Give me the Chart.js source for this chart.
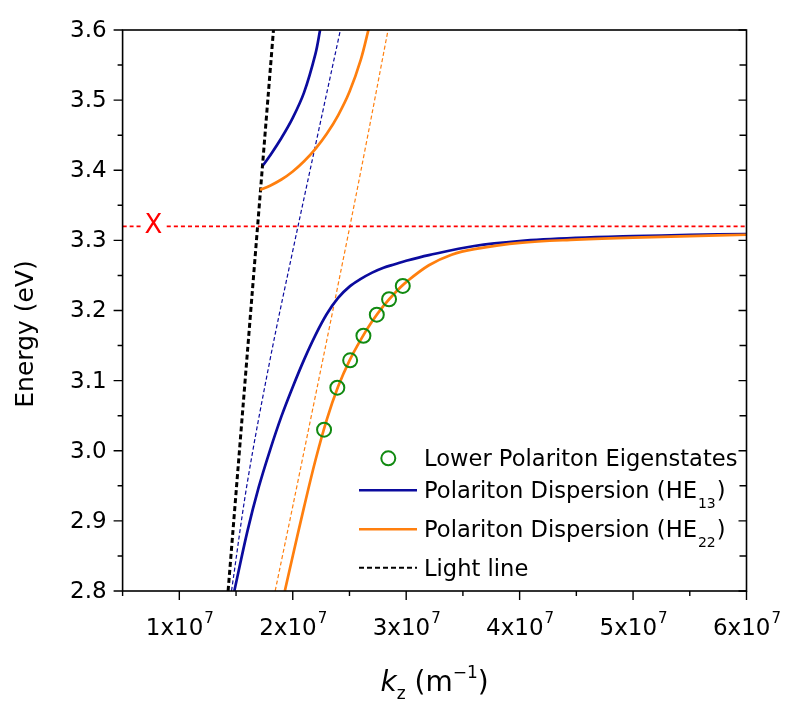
<!DOCTYPE html>
<html>
<head>
<meta charset="utf-8">
<script src="https://cdn.jsdelivr.net/npm/chart.js@4.4.0/dist/chart.umd.min.js"></script>
<style>
  html, body { margin: 0; padding: 0; background: #fff; }
  #wrap { width: 789px; height: 709px; }
</style>
</head>
<body>
<div id="wrap"><canvas id="c" width="789" height="709"></canvas></div>
<script>
// ---- axis ranges and ticks ----
const X_MIN = 0.5e7, X_MAX = 6e7;
const Y_MIN = 2.8, Y_MAX = 3.6;
const xMajorTicks = [1e7, 2e7, 3e7, 4e7, 5e7, 6e7];
const xMinorTicks = [0.5e7, 1.5e7, 2.5e7, 3.5e7, 4.5e7, 5.5e7];
const xTickLabels = ['1x10', '2x10', '3x10', '4x10', '5x10', '6x10'];
const xTickExponent = '7';
const yMajorTicks = [2.8, 2.9, 3.0, 3.1, 3.2, 3.3, 3.4, 3.5, 3.6];
const yMinorTicks = [2.85, 2.95, 3.05, 3.15, 3.25, 3.35, 3.45, 3.55];
const yTickLabels = ['2.8', '2.9', '3.0', '3.1', '3.2', '3.3', '3.4', '3.5', '3.6'];

// ---- series: wavevector k_z (m^-1) and energy (eV) ----
// light line
const lightK = [1.43e7, 1.83e7];
const lightE = [2.80, 3.60];
// uncoupled photonic modes
const he13BareK = [1.46e7, 1.60e7, 1.80e7, 2.00e7, 2.21e7, 2.42e7];
const he13BareE = [2.80, 2.955, 3.13, 3.285, 3.443, 3.60];
const he22BareK = [1.845e7, 2.05e7, 2.46e7, 2.65e7, 2.84e7];
const he22BareE = [2.80, 2.96, 3.285, 3.44, 3.60];
// upper polariton branches
const he13UpperK = [1.741e7, 1.80e7, 1.90e7, 2.00e7, 2.10e7, 2.20e7, 2.241e7];
const he13UpperE = [3.4075, 3.421, 3.446, 3.4747, 3.511, 3.566, 3.600];
const he22UpperK = [1.712e7, 1.80e7, 1.90e7, 2.00e7, 2.10e7, 2.20e7, 2.30e7, 2.40e7, 2.50e7, 2.60e7, 2.667e7];
const he22UpperE = [3.372, 3.378, 3.3868, 3.3983, 3.4128, 3.4305, 3.452, 3.4783, 3.5118, 3.5578, 3.600];
// lower polariton branches
const he13LowerK = [1.485e7, 1.60e7, 1.70e7, 1.80e7, 1.90e7, 2.00e7, 2.10e7, 2.20e7, 2.30e7, 2.40e7, 2.50e7, 2.60e7,
                    2.70e7, 2.80e7, 2.90e7, 3.00e7, 3.20e7, 3.60e7, 4.00e7, 4.50e7, 5.00e7, 5.50e7, 6.00e7];
const he13LowerE = [2.800, 2.885, 2.948, 3.001, 3.049, 3.091, 3.130, 3.165, 3.195, 3.218, 3.234, 3.245,
                    3.254, 3.261, 3.266, 3.271, 3.279, 3.292, 3.299, 3.3035, 3.306, 3.3078, 3.309];
const he22LowerK = [1.93e7, 2.00e7, 2.10e7, 2.20e7, 2.30e7, 2.40e7, 2.50e7, 2.60e7, 2.70e7, 2.80e7,
                    2.90e7, 3.00e7, 3.20e7, 3.40e7, 3.60e7, 4.00e7, 4.50e7, 5.00e7, 5.50e7, 6.00e7];
const he22LowerE = [2.800, 2.850, 2.920, 2.9865, 3.0445, 3.0915, 3.1285, 3.1585, 3.1845, 3.2065,
                    3.225, 3.2405, 3.2645, 3.2795, 3.2875, 3.2965, 3.301, 3.304, 3.306, 3.308];
// computed lower polariton eigenstates
const eigenK = [2.276e7, 2.393e7, 2.506e7, 2.623e7, 2.741e7, 2.849e7, 2.970e7];
const eigenE = [3.030, 3.090, 3.129, 3.164, 3.194, 3.216, 3.235];
// exciton level
const excitonE = 3.32;
const excitonLabel = 'X';
const excitonLabelK = 0.771e7;
const excitonLineK = [0.5e7, 0.668e7, 0.889e7, 6.0e7];

// ---- legend and title text ----
const legendLabels = ['Lower Polariton Eigenstates', 'Polariton Dispersion (HE', 'Polariton Dispersion (HE', 'Light line'];
const legendSubs = ['', '13', '22', ''];
const legendTails = ['', ')', ')', ''];
const yTitle = 'Energy (eV)';

// ---- styles ----
const FONT = '"DejaVu Sans", Verdana, sans-serif';
const BLUE = '#0b0b9e';
const ORANGE = '#ff7f0e';
const GREEN = '#118a11';
const RED = '#ff0000';

const pts = (ks, es) => ks.map((k, i) => ({ x: k, y: es[i] }));

const lineSet = (data, color, width, dash, order) => ({
  data, showLine: true, borderColor: color, borderWidth: width,
  borderDash: dash, pointRadius: 0, fill: false,
  tension: 0.35, order
});

// exciton line with a break around its label
const excitonPts = [
  { x: excitonLineK[0], y: excitonE }, { x: excitonLineK[1], y: excitonE },
  { x: excitonLabelK, y: null },
  { x: excitonLineK[2], y: excitonE }, { x: excitonLineK[3], y: excitonE }
];

const datasets = [
  { data: pts(eigenK, eigenE), showLine: false, pointRadius: 7, pointHoverRadius: 7,
    pointBorderWidth: 2, pointBorderColor: GREEN, pointBackgroundColor: 'rgba(0,0,0,0)', order: 0 },
  lineSet(pts(he22LowerK, he22LowerE), ORANGE, 2.7, [], 1),
  lineSet(pts(he13LowerK, he13LowerE), BLUE, 2.7, [], 2),
  lineSet(pts(he22UpperK, he22UpperE), ORANGE, 2.7, [], 3),
  lineSet(pts(he13UpperK, he13UpperE), BLUE, 2.7, [], 4),
  lineSet(excitonPts, RED, 1.6, [4, 3], 5),
  lineSet(pts(lightK, lightE), '#000', 3, [5, 3], 6),
  lineSet(pts(he22BareK, he22BareE), ORANGE, 1.2, [4, 2.5], 7),
  lineSet(pts(he13BareK, he13BareE), BLUE, 1.2, [4, 2.5], 8)
];
datasets[5].spanGaps = false;

// frame, ticks, labels, titles and legend
const decor = {
  id: 'decor',
  beforeDraw(chart) {
    const ctx = chart.ctx;
    ctx.save();
    ctx.fillStyle = '#fff';
    ctx.fillRect(0, 0, chart.width, chart.height);
    ctx.restore();
  },
  afterDatasetsDraw(chart) {
    const { ctx, chartArea: a, scales: { x, y } } = chart;
    ctx.save();
    ctx.strokeStyle = '#000';
    ctx.lineWidth = 1.6;
    ctx.strokeRect(a.left, a.top, a.right - a.left, a.bottom - a.top);
    ctx.lineWidth = 1.4;
    ctx.beginPath();
    // bottom axis ticks (outward)
    xMajorTicks.forEach(v => { const p = x.getPixelForValue(v); ctx.moveTo(p, a.bottom); ctx.lineTo(p, a.bottom + 9); });
    xMinorTicks.forEach(v => { const p = x.getPixelForValue(v); ctx.moveTo(p, a.bottom); ctx.lineTo(p, a.bottom + 5); });
    // left axis ticks (outward), right axis ticks (inward)
    yMajorTicks.forEach(v => {
      const p = y.getPixelForValue(v);
      ctx.moveTo(a.left, p); ctx.lineTo(a.left - 9, p);
      ctx.moveTo(a.right, p); ctx.lineTo(a.right - 8, p);
    });
    yMinorTicks.forEach(v => {
      const p = y.getPixelForValue(v);
      ctx.moveTo(a.left, p); ctx.lineTo(a.left - 5, p);
      ctx.moveTo(a.right, p); ctx.lineTo(a.right - 7, p);
    });
    ctx.stroke();
    ctx.restore();
  },
  afterDraw(chart) {
    const { ctx, chartArea: a, scales: { x, y } } = chart;
    ctx.save();
    ctx.fillStyle = '#000';

    // y tick labels
    ctx.font = `23px ${FONT}`;
    ctx.textAlign = 'right';
    ctx.textBaseline = 'middle';
    yMajorTicks.forEach((v, i) => ctx.fillText(yTickLabels[i], a.left - 16, y.getPixelForValue(v) + 1));

    // x tick labels with exponent
    ctx.textAlign = 'left';
    ctx.textBaseline = 'alphabetic';
    xMajorTicks.forEach((v, i) => {
      ctx.font = `23px ${FONT}`;
      const w1 = ctx.measureText(xTickLabels[i]).width;
      ctx.font = `15px ${FONT}`;
      const w2 = ctx.measureText(xTickExponent).width;
      const x0 = x.getPixelForValue(v) - (w1 + w2) / 2;
      ctx.font = `23px ${FONT}`;
      ctx.fillText(xTickLabels[i], x0, a.bottom + 44);
      ctx.font = `15px ${FONT}`;
      ctx.fillText(xTickExponent, x0 + w1 + 1, a.bottom + 32);
    });

    // x title: k_z (m^-1)
    const cx = (a.left + a.right) / 2, by = 691;
    const parts = [
      { t: 'k', f: `italic 28px ${FONT}`, dy: 0 },
      { t: 'z', f: `17px ${FONT}`, dy: 8 },
      { t: ' (m', f: `28px ${FONT}`, dy: 0 },
      { t: '\u22121', f: `17px ${FONT}`, dy: -13 },
      { t: ')', f: `28px ${FONT}`, dy: 0 }
    ];
    let tw = 0;
    parts.forEach(p => { ctx.font = p.f; p.w = ctx.measureText(p.t).width; tw += p.w; });
    let px = cx - tw / 2;
    parts.forEach(p => { ctx.font = p.f; ctx.fillText(p.t, px, by + p.dy); px += p.w; });

    // y title
    ctx.save();
    ctx.translate(33, 334);
    ctx.rotate(-Math.PI / 2);
    ctx.textAlign = 'center';
    ctx.font = `25px ${FONT}`;
    ctx.fillText(yTitle, 0, 0);
    ctx.restore();

    // exciton label
    ctx.fillStyle = RED;
    ctx.font = `26px ${FONT}`;
    ctx.textAlign = 'center';
    ctx.textBaseline = 'middle';
    ctx.fillText(excitonLabel, x.getPixelForValue(excitonLabelK), y.getPixelForValue(excitonE));

    // legend
    const rowY = [458.3, 490.3, 529.3, 567.8];
    const sx0 = 359, sx1 = 417, tx = 424;
    ctx.textAlign = 'left';
    ctx.textBaseline = 'alphabetic';
    ctx.strokeStyle = GREEN; ctx.lineWidth = 2;
    ctx.beginPath(); ctx.arc((sx0 + sx1) / 2 + 0.3, rowY[0], 7, 0, Math.PI * 2); ctx.stroke();
    const sym = [[BLUE, 2.5, []], [ORANGE, 2.5, []], ['#000', 2, [5, 3]]];
    sym.forEach((s, i) => {
      ctx.strokeStyle = s[0]; ctx.lineWidth = s[1]; ctx.setLineDash(s[2]);
      ctx.beginPath(); ctx.moveTo(sx0, rowY[i + 1]); ctx.lineTo(sx1, rowY[i + 1]); ctx.stroke();
    });
    ctx.setLineDash([]);
    ctx.fillStyle = '#000';
    legendLabels.forEach((t, i) => {
      const base = rowY[i] + 8;
      ctx.font = `22.6px ${FONT}`;
      ctx.fillText(t, tx, base);
      let p = tx + ctx.measureText(t).width;
      if (legendSubs[i]) {
        ctx.font = `14px ${FONT}`;
        ctx.fillText(legendSubs[i], p + 1, base + 10);
        p += ctx.measureText(legendSubs[i]).width + 2;
      }
      if (legendTails[i]) {
        ctx.font = `22.6px ${FONT}`;
        ctx.fillText(legendTails[i], p, base);
      }
    });
    ctx.restore();
  }
};

new Chart(document.getElementById('c'), {
  type: 'scatter',
  data: { datasets },
  options: {
    responsive: false,
    animation: false,
    devicePixelRatio: 1,
    events: [],
    layout: { padding: { left: 122.6, right: 42.5, top: 30, bottom: 118 } },
    plugins: { legend: { display: false }, tooltip: { enabled: false } },
    scales: {
      x: { type: 'linear', min: X_MIN, max: X_MAX, display: false },
      y: { type: 'linear', min: Y_MIN, max: Y_MAX, display: false }
    }
  },
  plugins: [decor]
});
</script>
</body>
</html>
